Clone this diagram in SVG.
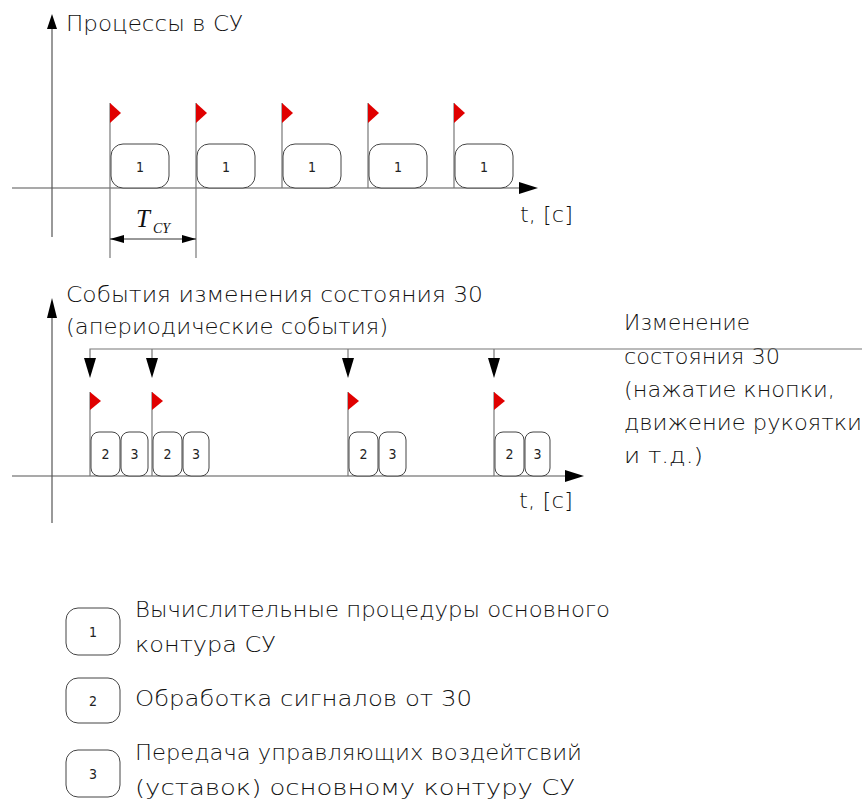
<svg xmlns="http://www.w3.org/2000/svg" width="868" height="807" viewBox="0 0 868 807">
<style>
  .ax { stroke: #555; stroke-width: 1.2; fill: none; }
  .ln { stroke: #777; stroke-width: 1.2; fill: none; }
  .box { fill: #fff; stroke: #444; stroke-width: 1; }
  .flag { fill: #e00000; }
  .lbl { font-family: "DejaVu Sans", "Liberation Sans", sans-serif; font-stretch: condensed; font-weight: 200; font-size: 22px; fill: #111; }
  .num { font-family: "DejaVu Sans", "Liberation Sans", sans-serif; font-stretch: condensed; font-size: 14px; fill: #222; text-anchor: middle; }
  .tsym { font-family: "Liberation Serif", serif; font-style: italic; fill: #111; }
</style>
<defs>
  <marker id="dimArr" viewBox="0 0 14 8" refX="14" refY="4" markerWidth="14" markerHeight="8" markerUnits="userSpaceOnUse" orient="auto-start-reverse">
    <path d="M0,0 L14,4 L0,8 Z" fill="#000"/>
  </marker>
</defs>

<!-- Upper chart: periodic processes -->
<g id="upper-axes">
  <line class="ax" x1="52" y1="26" x2="52" y2="237"/>
  <polygon points="52,14 47,29 57,29" fill="#000"/>
  <line class="ax" x1="12" y1="188" x2="520" y2="188"/>
  <polygon points="538,188 519,182 519,194" fill="#000"/>
  <text class="lbl" x="66" y="31" textLength="177" lengthAdjust="spacingAndGlyphs">Процессы в СУ</text>
  <text class="lbl" x="520" y="222" textLength="53" lengthAdjust="spacingAndGlyphs">t, [c]</text>
</g>

<g id="upper-flags">
  <line class="ln" x1="110" y1="103" x2="110" y2="258"/>
  <line class="ln" x1="196" y1="103" x2="196" y2="258"/>
  <line class="ln" x1="282" y1="103" x2="282" y2="188"/>
  <line class="ln" x1="368" y1="103" x2="368" y2="188"/>
  <line class="ln" x1="454" y1="103" x2="454" y2="188"/>
  <polygon class="flag" points="110,103 121,113 110,123"/>
  <polygon class="flag" points="196,103 207,113 196,123"/>
  <polygon class="flag" points="282,103 293,113 282,123"/>
  <polygon class="flag" points="368,103 379,113 368,123"/>
  <polygon class="flag" points="454,103 465,113 454,123"/>
</g>

<g id="p1a"><rect class="box" x="111" y="144" width="58" height="44" rx="12"/><text class="num" x="140" y="172">1</text></g>
<g id="p1b"><rect class="box" x="197" y="144" width="58" height="44" rx="12"/><text class="num" x="226" y="172">1</text></g>
<g id="p1c"><rect class="box" x="283" y="144" width="58" height="44" rx="12"/><text class="num" x="312" y="172">1</text></g>
<g id="p1d"><rect class="box" x="369" y="144" width="58" height="44" rx="12"/><text class="num" x="398" y="172">1</text></g>
<g id="p1e"><rect class="box" x="455" y="144" width="58" height="44" rx="12"/><text class="num" x="484" y="172">1</text></g>

<g id="period-dimension">
  <line x1="110" y1="239" x2="196" y2="239" stroke="#333" stroke-width="1" marker-start="url(#dimArr)" marker-end="url(#dimArr)"/>
  <text class="tsym" x="136" y="227" font-size="25">T</text>
  <text class="tsym" x="153" y="233" font-size="14">CY</text>
</g>

<!-- Lower chart: aperiodic events -->
<g id="lower-axes">
  <line class="ax" x1="52" y1="312" x2="52" y2="523"/>
  <polygon points="52,298 47,318 57,318" fill="#000"/>
  <line class="ax" x1="12" y1="476" x2="566" y2="476"/>
  <polygon points="584,476 565,470 565,482" fill="#000"/>
  <text class="lbl" x="66" y="302" textLength="417" lengthAdjust="spacingAndGlyphs">События изменения состояния 30</text>
  <text class="lbl" x="66" y="334" textLength="322" lengthAdjust="spacingAndGlyphs">(апериодические события)</text>
  <text class="lbl" x="519" y="508" textLength="54" lengthAdjust="spacingAndGlyphs">t, [c]</text>
</g>

<g id="event-source">
  <text class="lbl" x="624" y="330" textLength="126" lengthAdjust="spacingAndGlyphs">Изменение</text>
  <text class="lbl" x="624" y="364" textLength="156" lengthAdjust="spacingAndGlyphs">состояния 30</text>
  <text class="lbl" x="624" y="397" textLength="211" lengthAdjust="spacingAndGlyphs">(нажатие кнопки,</text>
  <text class="lbl" x="624" y="430" textLength="238" lengthAdjust="spacingAndGlyphs">движение рукоятки</text>
  <text class="lbl" x="624" y="463" textLength="79" lengthAdjust="spacingAndGlyphs">и т.д.)</text>
</g>

<g id="connectors">
  <polyline class="ln" points="862,349 90,349 90,362"/>
  <line class="ln" x1="152" y1="349" x2="152" y2="362"/>
  <line class="ln" x1="348" y1="349" x2="348" y2="362"/>
  <line class="ln" x1="494" y1="349" x2="494" y2="362"/>
  <polygon points="84,358 96,358 90,378" fill="#000"/>
  <polygon points="146,358 158,358 152,378" fill="#000"/>
  <polygon points="342,358 354,358 348,378" fill="#000"/>
  <polygon points="488,358 500,358 494,378" fill="#000"/>
</g>

<g id="lower-flags">
  <line class="ln" x1="90" y1="392" x2="90" y2="476"/>
  <line class="ln" x1="152" y1="392" x2="152" y2="476"/>
  <line class="ln" x1="348" y1="392" x2="348" y2="476"/>
  <line class="ln" x1="494" y1="392" x2="494" y2="476"/>
  <polygon class="flag" points="90,392 101,401 90,410"/>
  <polygon class="flag" points="152,392 163,401 152,410"/>
  <polygon class="flag" points="348,392 359,401 348,410"/>
  <polygon class="flag" points="494,392 505,401 494,410"/>
</g>

<g id="e1-2"><rect class="box" x="91" y="432" width="29" height="44" rx="8"/><text class="num" x="105.5" y="459">2</text></g>
<g id="e1-3"><rect class="box" x="121" y="432" width="27" height="44" rx="8"/><text class="num" x="134.5" y="459">3</text></g>
<g id="e2-2"><rect class="box" x="153" y="432" width="29" height="44" rx="8"/><text class="num" x="167.5" y="459">2</text></g>
<g id="e2-3"><rect class="box" x="183" y="432" width="26" height="44" rx="8"/><text class="num" x="196" y="459">3</text></g>
<g id="e3-2"><rect class="box" x="349" y="432" width="29" height="44" rx="8"/><text class="num" x="363.5" y="459">2</text></g>
<g id="e3-3"><rect class="box" x="379" y="432" width="27" height="44" rx="8"/><text class="num" x="392.5" y="459">3</text></g>
<g id="e4-2"><rect class="box" x="495" y="432" width="29" height="44" rx="8"/><text class="num" x="509.5" y="459">2</text></g>
<g id="e4-3"><rect class="box" x="525" y="432" width="25" height="44" rx="8"/><text class="num" x="537.5" y="459">3</text></g>

<!-- Legend -->
<g id="legend-1">
  <rect class="box" x="66" y="608" width="54" height="47" rx="12"/>
  <text class="num" x="93" y="637">1</text>
  <text class="lbl" x="135" y="617" textLength="475" lengthAdjust="spacingAndGlyphs">Вычислительные процедуры основного</text>
  <text class="lbl" x="135" y="652" textLength="141" lengthAdjust="spacingAndGlyphs">контура СУ</text>
</g>
<g id="legend-2">
  <rect class="box" x="66" y="678" width="54" height="45" rx="12"/>
  <text class="num" x="93" y="706">2</text>
  <text class="lbl" x="135" y="706" textLength="337" lengthAdjust="spacingAndGlyphs">Обработка сигналов от 30</text>
</g>
<g id="legend-3">
  <rect class="box" x="66" y="750" width="54" height="47" rx="12"/>
  <text class="num" x="93" y="779">3</text>
  <text class="lbl" x="135" y="760" textLength="447" lengthAdjust="spacingAndGlyphs">Передача управляющих воздейтсвий</text>
  <text class="lbl" x="135" y="795" textLength="440" lengthAdjust="spacingAndGlyphs">(уставок) основному контуру СУ</text>
</g>
</svg>
